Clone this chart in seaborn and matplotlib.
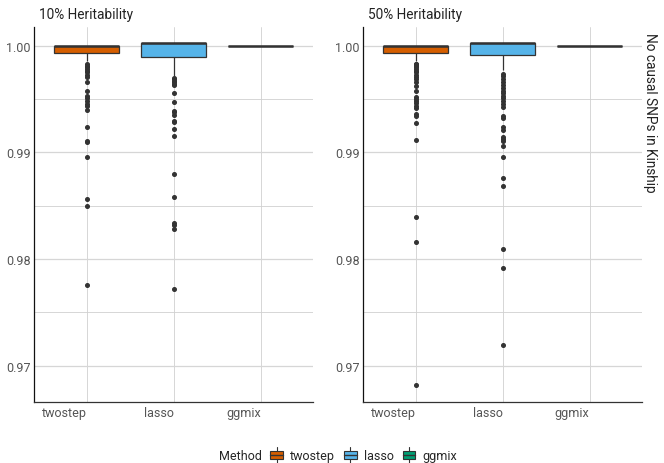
import numpy as np
import pandas as pd
import matplotlib
matplotlib.use("Agg")
import matplotlib.pyplot as plt
from matplotlib.patches import Patch, Rectangle
from matplotlib.lines import Line2D
from matplotlib.legend_handler import HandlerBase
from matplotlib.offsetbox import HPacker
from matplotlib.ticker import MultipleLocator
import seaborn as sns

methods = ["twostep", "lasso", "ggmix"]
panels = ["10% Heritability", "50% Heritability"]
method_colors = ["#D55E00", "#56B4E9", "#009E73"]
y_ticks = [0.97, 0.98, 0.99, 1.00]
y_tick_labels = ["0.97", "0.98", "0.99", "1.00"]

# Each group: distinct body levels (lower whisker end, Q1, median/Q3) with how
# many of the 200 replicates sit at each level, plus the individual outliers.
h10_twostep_levels = [0.99854, 0.99935, 1.0]
h10_twostep_counts = [1, 47, 129]
h10_twostep_outliers = [0.99828, 0.99813, 0.99797, 0.99782, 0.99766, 0.99750,
                        0.99725, 0.99704, 0.99657, 0.99578, 0.99531, 0.99510,
                        0.99485, 0.99454, 0.99438, 0.99398, 0.99241, 0.99110,
                        0.99095, 0.98960, 0.98560, 0.98500, 0.97757]

h10_lasso_levels = [0.99713, 0.99894, 1.00022]
h10_lasso_counts = [1, 48, 130]
h10_lasso_outliers = [0.99695, 0.99688, 0.99672, 0.99657, 0.99641, 0.99632,
                      0.99557, 0.99475, 0.99391, 0.99376, 0.99353, 0.99297,
                      0.99282, 0.99219, 0.99157, 0.98798, 0.98579, 0.98336,
                      0.98322, 0.98280, 0.97718]

h10_ggmix_levels = [1.0]
h10_ggmix_counts = [200]
h10_ggmix_outliers = []

h50_twostep_levels = [0.99854, 0.99935, 1.0]
h50_twostep_counts = [1, 44, 129]
h50_twostep_outliers = [0.99830, 0.99828, 0.99813, 0.99797, 0.99782, 0.99766,
                        0.99750, 0.99725, 0.99704, 0.99688, 0.99657, 0.99619,
                        0.99578, 0.99516, 0.99500, 0.99485, 0.99463, 0.99438,
                        0.99413, 0.99360, 0.99338, 0.99275, 0.99116, 0.98398,
                        0.98157, 0.96820]

h50_lasso_levels = [0.99775, 0.99913, 1.00022]
h50_lasso_counts = [1, 43, 129]
h50_lasso_outliers = [0.99735, 0.99713, 0.99688, 0.99657, 0.99632, 0.99601,
                      0.99578, 0.99557, 0.99531, 0.99507, 0.99485, 0.99454,
                      0.99423, 0.99338, 0.99320, 0.99241, 0.99210, 0.99141,
                      0.99126, 0.99110, 0.99057, 0.98960, 0.98760, 0.98682,
                      0.98097, 0.97916, 0.97198]

h50_ggmix_levels = [1.0]
h50_ggmix_counts = [200]
h50_ggmix_outliers = []

groups = {
    ("10% Heritability", "twostep"): (h10_twostep_levels, h10_twostep_counts, h10_twostep_outliers),
    ("10% Heritability", "lasso"): (h10_lasso_levels, h10_lasso_counts, h10_lasso_outliers),
    ("10% Heritability", "ggmix"): (h10_ggmix_levels, h10_ggmix_counts, h10_ggmix_outliers),
    ("50% Heritability", "twostep"): (h50_twostep_levels, h50_twostep_counts, h50_twostep_outliers),
    ("50% Heritability", "lasso"): (h50_lasso_levels, h50_lasso_counts, h50_lasso_outliers),
    ("50% Heritability", "ggmix"): (h50_ggmix_levels, h50_ggmix_counts, h50_ggmix_outliers),
}

rows = []
for (panel, method), (levels, counts, outliers) in groups.items():
    vals = np.concatenate([np.asarray(outliers, dtype=float),
                           np.repeat(levels, counts)])
    for v in vals:
        rows.append({"panel": panel, "Method": method, "value": v})
df = pd.DataFrame(rows)
df["Method"] = pd.Categorical(df["Method"], categories=methods, ordered=True)

sns.set_theme(style="white")
plt.rcParams["font.family"] = ["Roboto", "DejaVu Sans"]

W, H = 664, 464
fig = plt.figure(figsize=(W / 100, H / 100), dpi=100)

def frac(x0, y0, x1, y1):
    return [x0 / W, 1 - y1 / H, (x1 - x0) / W, (y1 - y0) / H]

ax_boxes = [
    fig.add_axes(frac(34.3, 28.3, 313.0, 402.7)),
    fig.add_axes(frac(363.3, 28.3, 641.7, 402.7)),
]

palette = dict(zip(methods, method_colors))
ink = "#333333"

for ax, panel in zip(ax_boxes, panels):
    sub = df[df["panel"] == panel]
    sns.boxplot(
        data=sub, x="Method", y="value", hue="Method", order=methods,
        hue_order=methods, palette=palette, width=0.75, ax=ax, legend=False,
        linecolor=ink, linewidth=0.9, saturation=1, whis=1.5,
        fliersize=2.6, showcaps=False,
        flierprops=dict(marker="o", markerfacecolor=ink, markeredgecolor=ink),
        medianprops=dict(color=ink, linewidth=1.8),
    )
    ax.set_xlim(-0.6, 2.6)
    ax.set_ylim(0.96663, 1.00172)
    ax.set_yticks(y_ticks)
    ax.set_yticklabels(y_tick_labels)
    ax.yaxis.set_minor_locator(MultipleLocator(0.005))
    ax.grid(True, which="major", axis="y", color="#d6d6d6", linewidth=0.9)
    ax.grid(True, which="minor", axis="y", color="#d0d0d0", linewidth=0.6)
    ax.grid(True, which="major", axis="x", color="#d0d0d0", linewidth=0.6)
    ax.set_axisbelow(True)
    ax.set_xlabel("")
    ax.set_ylabel("")
    for side in ["top", "right"]:
        ax.spines[side].set_visible(False)
    ax.spines["left"].set_color("#111111")
    ax.spines["left"].set_linewidth(0.9)
    ax.spines["bottom"].set_color("#333333")
    ax.spines["bottom"].set_linewidth(0.9)
    ax.tick_params(axis="both", which="both", length=0, labelsize=9,
                   labelcolor="#555555")
    ax.tick_params(axis="y", pad=2.5)
    ax.tick_params(axis="x", pad=3)
    for lbl in ax.get_xticklabels():
        lbl.set_horizontalalignment("right")
    ax.set_title(panel, loc="left", fontsize=9.8, color="#222222", pad=6.5,
                 x=0.017)

fig.text(650 / W, 1 - 33 / H, "No causal SNPs in Kinship", rotation=270,
         ha="center", va="top", fontsize=9.8, color="#222222")


class BoxKeyHandler(HandlerBase):
    """Legend key drawn as a small box with whisker stubs."""

    def create_artists(self, legend, orig_handle, xdescent, ydescent, width,
                       height, fontsize, trans):
        bw = width * 0.95
        bh = height * 0.8
        x0 = (width - bw) / 2 - xdescent
        y0 = (height - bh) / 2 - ydescent
        cx = x0 + bw / 2
        whisker = Line2D([cx, cx], [y0 - height * 0.35, y0 + bh + height * 0.35],
                         color=ink, linewidth=0.8, transform=trans)
        rect = Rectangle((x0, y0), bw, bh,
                         facecolor=orig_handle.get_facecolor(),
                         edgecolor=ink, linewidth=0.8, transform=trans)
        mid = Line2D([x0, x0 + bw], [y0 + bh / 2, y0 + bh / 2], color=ink,
                     linewidth=1.0, transform=trans)
        return [whisker, rect, mid]


handles = [Patch(facecolor=c, edgecolor=ink, linewidth=0.8, label=m)
           for m, c in zip(methods, method_colors)]
leg = fig.legend(handles=handles, title="Method", loc="center",
                 bbox_to_anchor=(338 / W, 1 - 457 / H), ncol=3, frameon=False,
                 fontsize=9, title_fontsize=9, handlelength=1.05,
                 handleheight=0.9, handletextpad=0.55, columnspacing=0.7,
                 borderpad=0, handler_map={Patch: BoxKeyHandler()})
# title sits on the same row as the keys
title_box = leg._legend_box._children[0]
keys_box = leg._legend_box._children[1]
leg._legend_box._children = [HPacker(pad=0, sep=6, children=[title_box, keys_box],
                                     align="center")]

fig.savefig("out.png", dpi=100)
